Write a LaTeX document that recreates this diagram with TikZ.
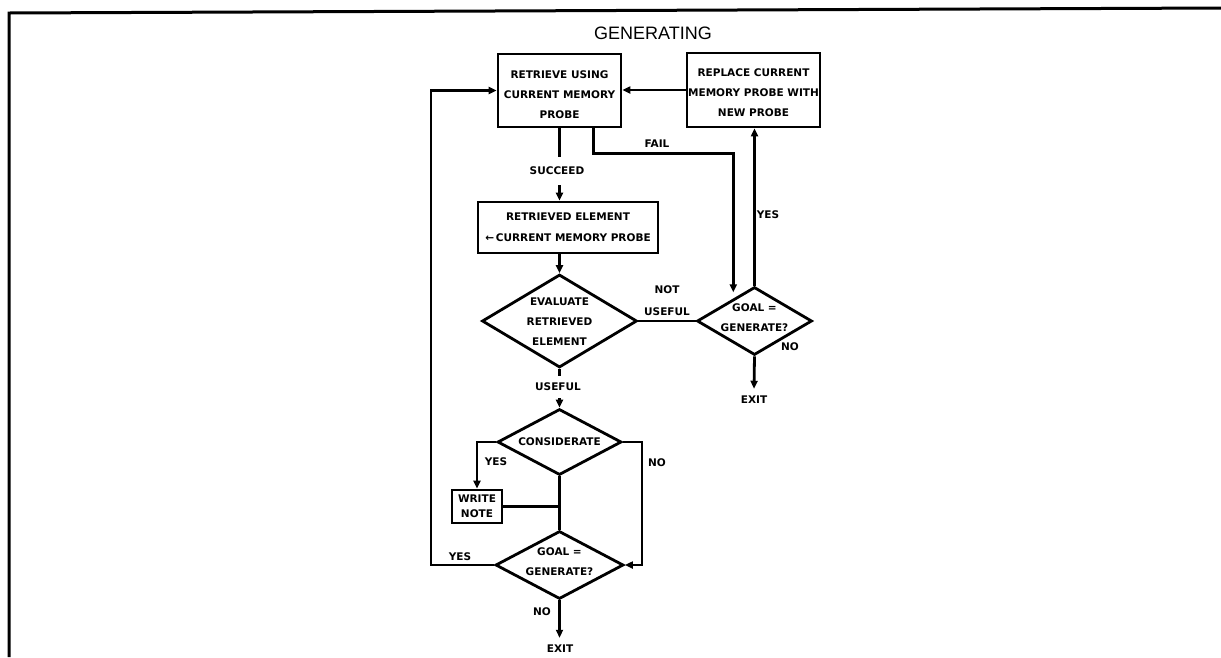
\documentclass[tikz,border=0pt]{standalone}
\usepackage{fontspec}
\newfontfamily\chartfont{DejaVu Sans}
\newfontfamily\headfont{Liberation Sans}
\usetikzlibrary{shapes.geometric,arrows.meta,calc}
\begin{document}
\begin{tikzpicture}[x=1pt,y=-1pt,
  line width=2.8pt,
  every node/.style={inner sep=0pt},
  txt/.style={font=\chartfont\bfseries\fontsize{10.5}{20}\selectfont, align=center},
  tag/.style={txt, inner sep=6pt},
  stepbox/.style={draw, rectangle, line width=2.8pt},
  decision/.style={draw, diamond, aspect=2, line width=2.8pt},
  flow/.style={-{Triangle[length=8pt,width=7pt]}},
]
\useasboundingbox (0,0) rectangle (1221,657);

% page frame
\draw[line width=3pt] (9,657) -- (9,13) -- (1221,8);

% heading
\node[font=\headfont\fontsize{18}{18}\selectfont] (title) at (653,33) {GENERATING};

% process boxes
\node[stepbox, minimum width=123pt, minimum height=73pt,
      label={[txt, yshift=-4.5pt]center:{RETRIEVE USING\\CURRENT MEMORY\\PROBE}}]
  (retrieve) at (559.5,90.5) {};
\node[stepbox, minimum width=133pt, minimum height=74pt,
      label={[txt, yshift=-3pt]center:{REPLACE CURRENT\\MEMORY PROBE WITH\\NEW PROBE}}]
  (replace) at (753.5,90) {};
\node[stepbox, minimum width=180pt, minimum height=51pt,
      label={[txt, font=\chartfont\bfseries\fontsize{10.5}{21}\selectfont]center:{RETRIEVED ELEMENT\\←\,CURRENT MEMORY PROBE}}]
  (assign) at (568,227.5) {};
\node[stepbox, minimum width=50pt, minimum height=33pt,
      label={[txt, font=\chartfont\bfseries\fontsize{10.5}{15}\selectfont]center:{WRITE\\NOTE}}]
  (note) at (477,506.5) {};

% decisions
\node[decision, minimum width=155pt, minimum height=93pt,
      label={[txt, yshift=-1pt]center:{EVALUATE\\RETRIEVED\\ELEMENT}}]
  (eval) at (559.5,321) {};
\node[decision, minimum width=115pt, minimum height=68pt,
      label={[txt, yshift=3pt]center:{GOAL =\\GENERATE?}}]
  (goalr) at (754.5,321) {};
\node[decision, minimum width=124pt, minimum height=66pt,
      label={[txt]center:{CONSIDERATE}}]
  (consid) at (559.5,442) {};
\node[decision, minimum width=128pt, minimum height=68pt,
      label={[txt, yshift=3pt]center:{GOAL =\\GENERATE?}}]
  (goalb) at (559.5,565) {};

% branch labels and exits
\node[tag, inner ysep=9pt] (succ) at (557,171) {SUCCEED};
\node[txt] (fail) at (657,144) {FAIL};
\node[txt] (yesr) at (768,215) {YES};
\node[txt, font=\chartfont\bfseries\fontsize{10.5}{22}\selectfont] (notuse) at (667,301) {NOT\\USEFUL};
\node[txt] (nor) at (790,347) {NO};
\node[tag] (exitr) at (754,400) {EXIT};
\node[tag, inner ysep=6pt] (useful) at (558,387) {USEFUL};
\node[txt] (yesc) at (496,462) {YES};
\node[txt] (noc) at (657,463) {NO};
\node[txt] (yesb) at (460,557) {YES};
\node[txt] (nob) at (542,612) {NO};
\node[tag] (exitb) at (560,649) {EXIT};

% routing columns
\coordinate (loopx) at (431,0);
\coordinate (nox) at (642,0);
\coordinate (failin) at ($(goalr.west)!0.64!(goalr.north)$);

% connectors
\draw[flow] (replace.west) -- (replace.west -| retrieve.east);
\draw (retrieve.south) -- (retrieve.south |- succ.north);
\draw[flow] (retrieve.south |- succ.south) -- (retrieve.south |- assign.north);
\draw[flow, shorten >=6pt] ([xshift=34pt]retrieve.south) -- ++(0,25) -| (failin);
\draw[flow] (goalr.north) -- (goalr.north |- replace.south);
\draw[flow] (eval.north |- assign.south) -- (eval.north);
\draw (eval.east) -- (goalr.west);
\draw[flow] (goalr.south) -- (exitr.north);
\draw (eval.south) -- (eval.south |- useful.north);
\draw[flow] (consid.north |- useful.south) -- (consid.north);
\draw[flow] (consid.west) -| (note.north);
\draw (note.east) -- (note.east -| consid.south);
\draw (consid.south) -- (goalb.north);
\draw[flow] (consid.east) -- (consid.east -| nox) |- (goalb.east);
\draw[flow] (goalb.west) -- (goalb.west -| loopx) |- (retrieve.west);
\draw[flow] (goalb.south) -- (goalb.south |- exitb.north);
\end{tikzpicture}
\end{document}
